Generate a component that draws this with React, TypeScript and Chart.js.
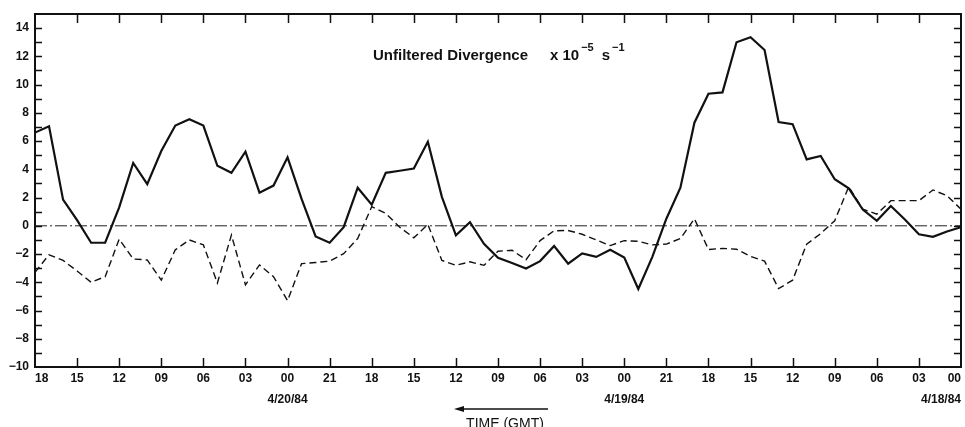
import React, { useEffect, useRef } from "react";
import { Chart, registerables } from "chart.js";

Chart.register(...registerables);

// Hour index 0 = left edge (18 GMT 4/20/84), time runs backwards to the right (00 GMT 4/18/84)
const HOUR_TICK_LABELS = ["18","15","12","09","06","03","00","21","18","15","12","09","06","03","00","21","18","15","12","09","06","03","00"];
const DATE_TICK_INDEX = [6, 14, 22];
const DATE_LABELS = ["4/20/84", "4/19/84", "4/18/84"];
const Y_LABELED_TICKS = [-10, -8, -6, -4, -2, 0, 2, 4, 6, 8, 10, 12, 14];

const SOLID_SERIES = [
  6.6, 7.05, 1.85, 0.4, -1.2, -1.2, 1.3, 4.45, 2.95, 5.3,
  7.1, 7.55, 7.1, 4.25, 3.75, 5.25, 2.35, 2.85, 4.85, 1.9,
  -0.75, -1.2, -0.1, 2.7, 1.5, 3.75, 3.9, 4.05, 5.95, 2.05,
  -0.68, 0.25, -1.28, -2.26, -2.63, -3.03, -2.5, -1.43, -2.68, -1.95,
  -2.2, -1.7, -2.24, -4.47, -2.2, 0.5, 2.7, 7.3, 9.35, 9.45,
  13.0, 13.35, 12.45, 7.35, 7.2, 4.7, 4.95, 3.3, 2.65, 1.15,
  0.35, 1.4, 0.45, -0.6, -0.78, -0.4, -0.1,
];

const DASHED_SERIES = [
  -3.3, -2.05, -2.45, -3.2, -4.0, -3.6, -0.95, -2.35, -2.42, -3.85,
  -1.7, -1.0, -1.35, -4.05, -0.65, -4.18, -2.77, -3.6, -5.3, -2.68,
  -2.6, -2.5, -1.97, -0.9, 1.35, 0.88, -0.1, -0.85, 0.1, -2.45,
  -2.8, -2.55, -2.8, -1.8, -1.73, -2.4, -1.05, -0.35, -0.33, -0.6,
  -1.0, -1.4, -1.05, -1.1, -1.35, -1.3, -0.9, 0.5, -1.68, -1.6,
  -1.66, -2.17, -2.5, -4.45, -3.85, -1.3, -0.55, 0.36, 2.77, 1.18,
  0.83, 1.78, 1.78, 1.78, 2.54, 2.13, 1.18,
];

const INK = "#111111";
const FONT = "'Liberation Sans', Arial, Helvetica, sans-serif";

const fmtNum = (v: number) => (v < 0 ? "\u2212" + Math.abs(v) : String(v));

const decorPlugin = {
  id: "decor",
  beforeDatasetsDraw(chart: any) {
    const { ctx, chartArea, scales } = chart;
    const y0 = scales.y.getPixelForValue(0);
    ctx.save();
    ctx.strokeStyle = "#222";
    ctx.lineWidth = 1;
    ctx.setLineDash([12, 3, 2, 3]);
    ctx.beginPath();
    ctx.moveTo(chartArea.left, y0);
    ctx.lineTo(chartArea.right, y0);
    ctx.stroke();
    ctx.restore();
  },
  afterDatasetsDraw(chart: any) {
    const { ctx, chartArea, scales } = chart;
    const { left, right, top, bottom } = chartArea;
    ctx.save();
    ctx.strokeStyle = INK;
    ctx.setLineDash([]);
    // y ticks (inward, both sides)
    ctx.lineWidth = 1.5;
    for (let v = scales.y.min + 1; v < scales.y.max; v++) {
      const py = Math.round(scales.y.getPixelForValue(v)) + 0.5;
      ctx.beginPath();
      ctx.moveTo(left, py);
      ctx.lineTo(left + 7, py);
      ctx.moveTo(right, py);
      ctx.lineTo(right - 7, py);
      ctx.stroke();
    }
    // x ticks (inward, top and bottom)
    for (let k = 1; k < HOUR_TICK_LABELS.length - 1; k++) {
      const px = Math.round(scales.x.getPixelForValue(k * 3)) + 0.5;
      ctx.beginPath();
      ctx.moveTo(px, bottom);
      ctx.lineTo(px, bottom - 9);
      ctx.moveTo(px, top);
      ctx.lineTo(px, top + 9);
      ctx.stroke();
    }
    // frame
    ctx.lineWidth = 2;
    ctx.strokeRect(left, top, right - left, bottom - top);
    ctx.restore();
  },
  afterDraw(chart: any) {
    const { ctx } = chart;
    ctx.save();
    ctx.fillStyle = INK;
    ctx.textBaseline = "alphabetic";
    ctx.textAlign = "left";
    // title
    ctx.font = `bold 15px ${FONT}`;
    ctx.fillText("Unfiltered Divergence", 373, 60);
    let x = 550;
    ctx.fillText("x 10", x, 60);
    x += ctx.measureText("x 10").width + 2;
    ctx.font = `bold 11px ${FONT}`;
    ctx.fillText("\u22125", x, 51);
    x += ctx.measureText("\u22125").width + 8;
    ctx.font = `bold 15px ${FONT}`;
    ctx.fillText("s", x, 60);
    x += ctx.measureText("s").width + 2;
    ctx.font = `bold 11px ${FONT}`;
    ctx.fillText("\u22121", x, 51);
    // time arrow
    ctx.strokeStyle = INK;
    ctx.lineWidth = 1.5;
    ctx.beginPath();
    ctx.moveTo(458, 409);
    ctx.lineTo(548, 409);
    ctx.stroke();
    ctx.beginPath();
    ctx.moveTo(454, 409);
    ctx.lineTo(464, 406);
    ctx.lineTo(464, 412);
    ctx.closePath();
    ctx.fill();
    ctx.font = `14px ${FONT}`;
    ctx.textAlign = "center";
    ctx.fillText("TIME (GMT)", 505, 428);
    ctx.restore();
  },
};

export default function App() {
  const canvasRef = useRef<HTMLCanvasElement | null>(null);

  useEffect(() => {
    if (!canvasRef.current) return;
    const chart = new Chart(canvasRef.current, {
      type: "line",
      data: {
        datasets: [
          {
            label: "solid",
            data: SOLID_SERIES.map((v, i) => ({ x: i, y: v })),
            borderColor: INK,
            borderWidth: 2.2,
            pointRadius: 0,
            tension: 0,
            fill: false,
          },
          {
            label: "dashed",
            data: DASHED_SERIES.map((v, i) => ({ x: i, y: v })),
            borderColor: INK,
            borderWidth: 1.4,
            borderDash: [7, 4],
            pointRadius: 0,
            tension: 0,
            fill: false,
          },
        ],
      },
      options: {
        animation: false,
        responsive: false,
        devicePixelRatio: 1,
        layout: { padding: { top: 14, right: 4, left: 0, bottom: 0 } },
        plugins: { legend: { display: false }, tooltip: { enabled: false }, title: { display: false } },
        scales: {
          x: {
            type: "linear",
            min: 0,
            max: (HOUR_TICK_LABELS.length - 1) * 3,
            border: { display: false },
            grid: { display: false, drawTicks: false },
            afterFit: (s: any) => { s.height = 60; },
            ticks: {
              stepSize: 3,
              autoSkip: false,
              maxRotation: 0,
              minRotation: 0,
              align: "inner",
              padding: 1,
              color: INK,
              font: { family: FONT, size: 12, weight: "bold", lineHeight: 1.75 },
              callback: (value: any) => {
                const k = Math.round(Number(value) / 3);
                const lab = HOUR_TICK_LABELS[k] ?? "";
                const d = DATE_TICK_INDEX.indexOf(k);
                return d >= 0 ? [lab, DATE_LABELS[d]] : lab;
              },
            },
          },
          y: {
            type: "linear",
            min: -10,
            max: 15,
            border: { display: false },
            grid: { display: false, drawTicks: false },
            afterFit: (s: any) => { s.width = 35; },
            ticks: {
              stepSize: 1,
              autoSkip: false,
              padding: 6,
              color: INK,
              font: { family: FONT, size: 12, weight: "bold" },
              callback: (value: any) => {
                const v = Number(value);
                return Y_LABELED_TICKS.includes(v) ? fmtNum(v) : "";
              },
            },
          },
        },
      },
      plugins: [decorPlugin],
    });
    return () => chart.destroy();
  }, []);

  return (
    <div style={{ position: "fixed", left: 0, top: 0, width: 965, height: 427, background: "#fff" }}>
      <canvas ref={canvasRef} width={965} height={427} style={{ display: "block" }} />
    </div>
  );
}
